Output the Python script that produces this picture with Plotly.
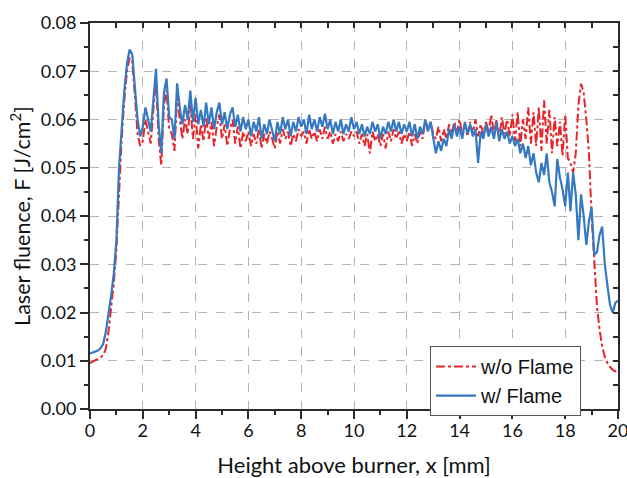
import numpy as np
import plotly.graph_objects as go

# Height above burner [mm], sampled every 0.1 mm
height_mm = [round(i * 0.1, 1) for i in range(201)]

# Laser fluence without flame [J/cm^2]
fluence_no_flame = [
    0.0095, 0.0098, 0.0101, 0.0104, 0.0107, 0.0112, 0.0125, 0.0160, 0.0205, 0.0260,
    0.0330, 0.0460, 0.0560, 0.0640, 0.0700, 0.0728, 0.0720, 0.0650, 0.0570, 0.0545,
    0.0555, 0.0600, 0.0575, 0.0550, 0.0620, 0.0680, 0.0560, 0.0505, 0.0630, 0.0660,
    0.0580, 0.0570, 0.0535, 0.0650, 0.0600, 0.0560, 0.0600, 0.0570, 0.0630, 0.0560,
    0.0610, 0.0540, 0.0590, 0.0555, 0.0605, 0.0560, 0.0595, 0.0545, 0.0585, 0.0610,
    0.0560, 0.0590, 0.0545, 0.0580, 0.0600, 0.0550, 0.0585, 0.0540, 0.0575, 0.0555,
    0.0575, 0.0545, 0.0570, 0.0550, 0.0580, 0.0540, 0.0570, 0.0550, 0.0575, 0.0560,
    0.0540, 0.0575, 0.0550, 0.0580, 0.0560, 0.0575, 0.0545, 0.0570, 0.0555, 0.0580,
    0.0565, 0.0575, 0.0550, 0.0580, 0.0560, 0.0575, 0.0555, 0.0580, 0.0560, 0.0585,
    0.0560, 0.0575, 0.0550, 0.0570, 0.0555, 0.0575, 0.0555, 0.0570, 0.0560, 0.0575,
    0.0565, 0.0575, 0.0550, 0.0570, 0.0545, 0.0570, 0.0530, 0.0575, 0.0555, 0.0570,
    0.0545, 0.0570, 0.0540, 0.0575, 0.0555, 0.0580, 0.0560, 0.0575, 0.0550, 0.0570,
    0.0555, 0.0575, 0.0545, 0.0570, 0.0550, 0.0575, 0.0560, 0.0600, 0.0580, 0.0595,
    0.0570, 0.0560, 0.0585, 0.0555, 0.0580, 0.0560, 0.0590, 0.0570, 0.0595, 0.0575,
    0.0600, 0.0570, 0.0590, 0.0565, 0.0595, 0.0570, 0.0600, 0.0565, 0.0590, 0.0570,
    0.0595, 0.0575, 0.0610, 0.0570, 0.0600, 0.0560, 0.0605, 0.0570, 0.0600, 0.0565,
    0.0610, 0.0555, 0.0615, 0.0545, 0.0600, 0.0560, 0.0625, 0.0550, 0.0615, 0.0545,
    0.0625, 0.0535, 0.0640, 0.0550, 0.0620, 0.0530, 0.0605, 0.0545, 0.0595, 0.0525,
    0.0610, 0.0520, 0.0510, 0.0490, 0.0530, 0.0630, 0.0674, 0.0655, 0.0600, 0.0530,
    0.0400, 0.0300, 0.0215, 0.0165, 0.0130, 0.0108, 0.0095, 0.0087, 0.0081, 0.0078,
    0.0075,
]

# Laser fluence with flame [J/cm^2]
fluence_flame = [
    0.0115, 0.0117, 0.0118, 0.0121, 0.0126, 0.0135, 0.0160, 0.0195, 0.0235, 0.0280,
    0.0350, 0.0500, 0.0580, 0.0660, 0.0715, 0.0745, 0.0735, 0.0670, 0.0600, 0.0565,
    0.0585, 0.0625, 0.0600, 0.0575, 0.0640, 0.0705, 0.0590, 0.0530, 0.0655, 0.0685,
    0.0605, 0.0600, 0.0560, 0.0675, 0.0625, 0.0590, 0.0630, 0.0600, 0.0660, 0.0595,
    0.0645, 0.0590, 0.0620, 0.0585, 0.0635, 0.0590, 0.0625, 0.0580, 0.0615, 0.0635,
    0.0590, 0.0615, 0.0580, 0.0610, 0.0625, 0.0585, 0.0610, 0.0575, 0.0605, 0.0580,
    0.0600, 0.0565, 0.0595, 0.0575, 0.0605, 0.0560, 0.0590, 0.0570, 0.0600, 0.0580,
    0.0555, 0.0595, 0.0570, 0.0605, 0.0580, 0.0600, 0.0565, 0.0595, 0.0575, 0.0605,
    0.0585, 0.0600, 0.0570, 0.0610, 0.0580, 0.0600, 0.0575, 0.0605, 0.0585, 0.0612,
    0.0580, 0.0600, 0.0570, 0.0595, 0.0575, 0.0600, 0.0570, 0.0590, 0.0575, 0.0605,
    0.0580, 0.0595, 0.0570, 0.0590, 0.0565, 0.0585, 0.0570, 0.0595, 0.0575, 0.0590,
    0.0560, 0.0585, 0.0570, 0.0595, 0.0575, 0.0600, 0.0575, 0.0595, 0.0570, 0.0590,
    0.0575, 0.0595, 0.0565, 0.0590, 0.0560, 0.0585, 0.0570, 0.0600, 0.0575, 0.0595,
    0.0565, 0.0530, 0.0555, 0.0535, 0.0560, 0.0545, 0.0580, 0.0560, 0.0590, 0.0565,
    0.0585, 0.0560, 0.0595, 0.0570, 0.0590, 0.0565, 0.0580, 0.0510, 0.0575, 0.0560,
    0.0590, 0.0565, 0.0585, 0.0560, 0.0595, 0.0555, 0.0580, 0.0560, 0.0575, 0.0550,
    0.0565, 0.0545, 0.0560, 0.0530, 0.0550, 0.0520, 0.0545, 0.0505, 0.0530, 0.0490,
    0.0470, 0.0510, 0.0485, 0.0530, 0.0470, 0.0450, 0.0420, 0.0518, 0.0480, 0.0455,
    0.0420, 0.0490, 0.0410, 0.0490, 0.0445, 0.0350, 0.0445, 0.0400, 0.0340, 0.0390,
    0.0418, 0.0320, 0.0325, 0.0360, 0.0378, 0.0300, 0.0255, 0.0215, 0.0200, 0.0220,
    0.0225,
]

x_ticks = [0, 2, 4, 6, 8, 10, 12, 14, 16, 18, 20]
y_ticks = [0.00, 0.01, 0.02, 0.03, 0.04, 0.05, 0.06, 0.07, 0.08]

RED = "#E8242B"
BLUE = "#3579C2"
AXIS = "#2b2b2b"
GRID = "#b4b4b4"
TICKFONT = dict(family="Lato, 'Open Sans', sans-serif", size=18, color="#111")
XTITLEFONT = dict(family="Lato, 'Open Sans', sans-serif", size=22, color="#111")
YTITLEFONT = dict(family="Lato, 'Open Sans', sans-serif", size=21.5, color="#111")

fig = go.Figure()
fig.add_trace(go.Scatter(
    x=height_mm, y=fluence_no_flame, mode="lines", name="w/o Flame",
    line=dict(color=RED, width=2, dash="dashdot"),
))
fig.add_trace(go.Scatter(
    x=height_mm, y=fluence_flame, mode="lines", name="w/ Flame",
    line=dict(color=BLUE, width=2.2),
))
# helper trace (no points) so the mirrored inward-tick top/right axes render
fig.add_trace(go.Scatter(x=[None], y=[None], xaxis="x2", yaxis="y2", showlegend=False,
                         hoverinfo="skip", mode="lines"))

fig.update_layout(
    width=627, height=478,
    margin=dict(l=90, r=9, t=23, b=69, autoexpand=False),
    paper_bgcolor="white", plot_bgcolor="white",
    xaxis=dict(
        range=[0, 20], tickvals=x_ticks, ticktext=[str(v) for v in x_ticks],
        ticks="outside", ticklen=8, tickwidth=1.5, tickcolor=AXIS,
        minor=dict(dtick=1, ticks="outside", ticklen=4, tickwidth=1.5,
                   tickcolor=AXIS, showgrid=False),
        showline=True, linewidth=2, linecolor=AXIS,
        showgrid=True, gridcolor=GRID, griddash="dash", gridwidth=1,
        zeroline=False, tickfont=TICKFONT, automargin=False,
        ticklabeloverflow="allow", ticklabelstandoff=-4,
        title=dict(text="Height above burner, x [mm]", font=XTITLEFONT, standoff=20),
    ),
    yaxis=dict(
        range=[0, 0.08], tickvals=y_ticks, ticktext=[f"{v:.2f}" for v in y_ticks],
        ticks="outside", ticklen=8, tickwidth=1.5, tickcolor=AXIS,
        minor=dict(dtick=0.005, ticks="outside", ticklen=4, tickwidth=1.5,
                   tickcolor=AXIS, showgrid=False),
        showline=True, linewidth=2, linecolor=AXIS,
        showgrid=True, gridcolor=GRID, griddash="dash", gridwidth=1,
        zeroline=False, tickfont=TICKFONT, automargin=False,
        ticklabeloverflow="allow",
        title=dict(text="Laser fluence, F [J/cm<sup>2</sup>]", font=YTITLEFONT, standoff=4),
    ),
    xaxis2=dict(
        range=[0, 20], overlaying="x", side="top", tickvals=x_ticks,
        showticklabels=False, ticks="inside", ticklen=5, tickwidth=1.5, tickcolor=AXIS,
        minor=dict(dtick=1, ticks="inside", ticklen=5, tickwidth=1.5, tickcolor=AXIS),
        showline=True, linewidth=2, linecolor=AXIS, showgrid=False, zeroline=False,
    ),
    yaxis2=dict(
        range=[0, 0.08], overlaying="y", side="right", tickvals=y_ticks,
        showticklabels=False, ticks="inside", ticklen=5, tickwidth=1.5, tickcolor=AXIS,
        minor=dict(dtick=0.005, ticks="inside", ticklen=5, tickwidth=1.5, tickcolor=AXIS),
        showline=True, linewidth=2, linecolor=AXIS, showgrid=False, zeroline=False,
    ),
    legend=dict(
        x=0.644, y=0.163, xanchor="left", yanchor="top",
        bgcolor="white", bordercolor="#555", borderwidth=1,
        font=dict(family="Arial, 'Liberation Sans', sans-serif", size=20, color="#111"),
        itemwidth=40, tracegroupgap=0,
    ),
    showlegend=True,
)

fig.write_html("out.html", config={"displayModeBar": False},
               post_script="document.body.style.margin='0';")
